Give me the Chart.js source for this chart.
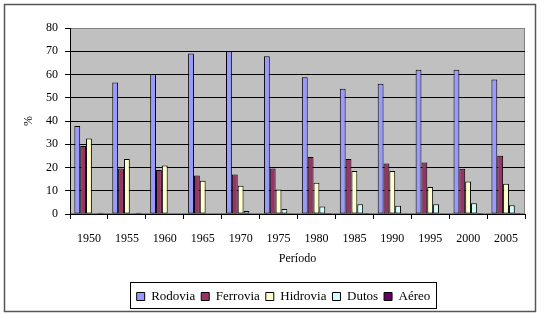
<!DOCTYPE html>
<html>
<head>
<meta charset="utf-8">
<script src="https://cdn.jsdelivr.net/npm/chart.js@4/dist/chart.umd.min.js"></script>
<style>
html,body{margin:0;padding:0;background:#fff;}
#wrap{width:547px;height:315px;position:relative;}
#fl{position:absolute;left:-9999px;top:0;font-family:'Liberation Serif';font-size:12px;}
</style>
</head>
<body>
<div id="wrap"><canvas id="c" width="547" height="315"></canvas></div>
<span id="fl">Período Aéreo 1950</span>
<script>
const categories = ['1950','1955','1960','1965','1970','1975','1980','1985','1990','1995','2000','2005'];
const rodovia  = [37.8, 56.6, 60.2, 69.0, 70.0, 67.9, 58.8, 53.9, 56.0, 62.0, 62.0, 57.9];
const ferrovia = [29.2, 19.6, 18.9, 16.6, 17.0, 19.6, 24.5, 23.7, 21.7, 22.2, 19.5, 25.1];
const hidrovia = [32.5, 23.7, 20.9, 14.3, 12.1, 10.5, 13.4, 18.5, 18.5, 11.6, 14.0, 13.0];
const dutos    = [0, 0, 0, 0, 1.3, 2.2, 3.2, 4.2, 3.6, 4.2, 4.6, 3.8];
const aereo    = [0.5, 0.5, 0, 0, 0.2, 0.3, 0.4, 0.4, 0.3, 0.3, 0.4, 0.4];
const yTicks = [0,10,20,30,40,50,60,70,80];

const FONT = "'Liberation Serif', 'Times New Roman', serif";
const LEG_SIZE = 13, LEG_BOX = 8, LEG_PAD = 6, LEG_SHIFT = 16;

const frame = {
  id:'frame',
  afterUpdate(chart){
    const lg = chart.legend;
    if(!lg) return;
    lg.left += LEG_SHIFT; lg.right += LEG_SHIFT;
  },
  beforeDraw(chart){
    const ctx = chart.ctx, a = chart.chartArea;
    ctx.save();
    ctx.fillStyle='#fff';
    ctx.fillRect(0,0,chart.width,chart.height);
    ctx.strokeStyle='#555';
    ctx.lineWidth=1.5;
    ctx.strokeRect(4.5,4.5,531,307);
    ctx.fillStyle='#C0C0C0';
    ctx.fillRect(a.left,a.top,a.right-a.left,a.bottom-a.top);
    ctx.strokeStyle='#808080';
    ctx.lineWidth=1;
    ctx.strokeRect(a.left+0.5,a.top+0.5,a.right-a.left-1,a.bottom-a.top-1);
    ctx.restore();
  },
  afterDraw(chart){
    const lg = chart.legend;
    if(!lg || !lg.legendItems) return;
    const ctx=chart.ctx;
    ctx.save();
    ctx.font = LEG_SIZE + "px " + FONT;
    let w = 0;
    lg.legendItems.forEach((it,i)=>{
      w += LEG_BOX + LEG_SIZE/2 + ctx.measureText(it.text).width;
      if(i>0) w += LEG_PAD;
    });
    const cx = (lg.left + lg.right)/2;
    const l = cx - w/2 - 7, r = cx + w/2 + 5;
    const t = lg.top + LEG_PAD - 8, b = t + 26;
    ctx.strokeStyle='#000';
    ctx.lineWidth=1;
    ctx.strokeRect(Math.round(l)+0.5,Math.round(t)+0.5,Math.round(r-l),Math.round(b-t));
    ctx.restore();
  }
};

const mk = (label,data,color)=>({label,data,backgroundColor:color,borderColor:'#000',borderWidth:1,borderSkipped:false,categoryPercentage:0.77,barPercentage:1});

function draw(){
new Chart(document.getElementById('c'),{
  type:'bar',
  data:{labels:categories,datasets:[
    mk('Rodovia',rodovia,'#9999FF'),
    mk('Ferrovia',ferrovia,'#993366'),
    mk('Hidrovia',hidrovia,'#FFFFCC'),
    mk('Dutos',dutos,'#CCFFFF'),
    mk('Aéreo',aereo,'#660066')
  ]},
  options:{
    responsive:false,animation:false,
    layout:{padding:{left:10,right:22,top:28,bottom:2}},
    plugins:{
      tooltip:{enabled:false},
      legend:{position:'bottom',labels:{boxWidth:LEG_BOX,boxHeight:LEG_BOX,padding:LEG_PAD,color:'#000',font:{family:FONT,size:LEG_SIZE}}}
    },
    scales:{
      x:{
        grid:{display:true,drawOnChartArea:false,drawTicks:true,tickLength:5,color:'#000',offset:true},
        border:{color:'#000'},
        ticks:{color:'#000',font:{family:FONT,size:12},padding:13,maxRotation:0},
        title:{display:true,text:'Período',color:'#000',font:{family:FONT,size:12},padding:{top:6,bottom:18}},
        afterFit(s){s.height=70;}
      },
      y:{
        min:0,max:80,
        afterBuildTicks(s){s.ticks=yTicks.map(v=>({value:v}));},
        grid:{color:(c)=>c.tick && c.tick.value===80?'#808080':'#000',tickLength:5,drawTicks:true,tickColor:'#000'},
        border:{color:'#000'},
        ticks:{color:'#000',font:{family:FONT,size:12},padding:7},
        title:{display:true,text:'%',color:'#000',font:{family:FONT,size:12},padding:{top:12,bottom:0}},
        afterFit(s){s.width=60;}
      }
    }
  },
  plugins:[frame]
});
}
Promise.all([
  document.fonts.load("12px 'Liberation Serif'"),
  document.fonts.load("13px 'Liberation Serif'")
]).then(draw, draw);
</script>
</body>
</html>
